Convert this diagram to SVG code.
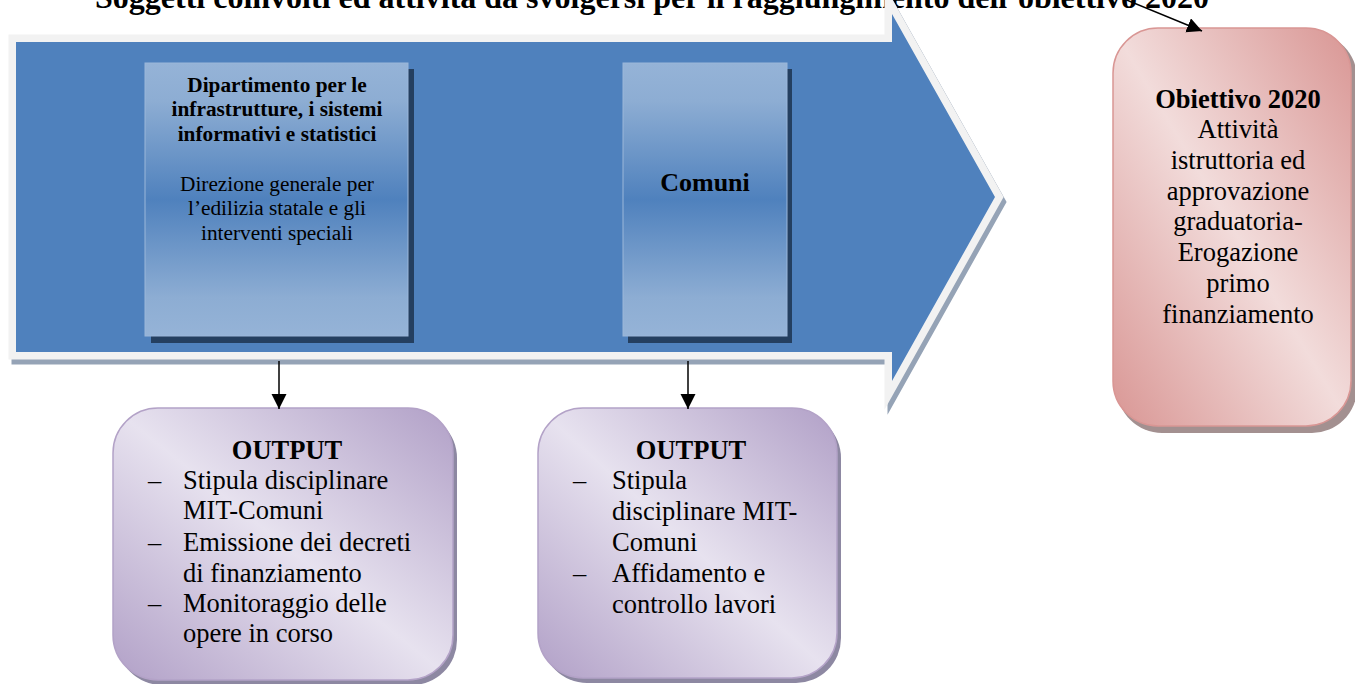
<svg xmlns="http://www.w3.org/2000/svg" width="1355" height="684" viewBox="0 0 1355 684">
  <style>
    .t { font-family: "Liberation Serif", "Times New Roman", serif; fill: #000; }
    .b { font-weight: bold; }
    .c { text-anchor: middle; }
    .s21 { font-size: 21.3px; }
    .s26 { font-size: 26.5px; }
    .conn { stroke: #000; stroke-width: 1.5; fill: none; marker-end: url(#arrow); }
    .panel { fill: url(#gBlue); stroke: #9bb7da; stroke-width: 1; }
    .panelShadow { fill: #243f60; }
    .outBox { fill: url(#gPurple); stroke: #b3a2c7; stroke-width: 1.5; }
    .outShadow { fill: #8d88a2; }
    .goalBox { fill: url(#gPink); stroke: #d99694; stroke-width: 1.5; }
    .goalShadow { fill: #a39090; }
  </style>
  <defs>
    <linearGradient id="gBlue" x1="0" y1="0" x2="0" y2="1">
      <stop offset="0" stop-color="#95b3d7"/>
      <stop offset="0.14" stop-color="#8dadd3"/>
      <stop offset="0.5" stop-color="#4f81bd"/>
      <stop offset="0.86" stop-color="#8dadd3"/>
      <stop offset="1" stop-color="#95b3d7"/>
    </linearGradient>
    <linearGradient id="gPurple" x1="1" y1="0" x2="0" y2="1">
      <stop offset="0" stop-color="#b1a0c7"/>
      <stop offset="0.5" stop-color="#e7e2ef"/>
      <stop offset="1" stop-color="#b1a0c7"/>
    </linearGradient>
    <linearGradient id="gPink" x1="1" y1="0" x2="0" y2="1">
      <stop offset="0" stop-color="#d99694"/>
      <stop offset="0.5" stop-color="#f2dcdb"/>
      <stop offset="1" stop-color="#d99694"/>
    </linearGradient>
    <marker id="arrow" markerWidth="16" markerHeight="16" refX="15" refY="7.5" orient="auto" markerUnits="userSpaceOnUse">
      <path d="M0,0 L15,7.5 L0,15 z" fill="#000"/>
    </marker>
  </defs>

  <!-- heading, partly above the page edge -->
  <text class="t b" x="95" y="8" font-size="32">Soggetti coinvolti ed attività da svolgersi per il raggiungimento dell’obiettivo 2020</text>

  <!-- large process arrow: shadow, light outline, blue body -->
  <g id="process-arrow">
    <polygon transform="translate(3,5)" points="16,42 892,42 892,14 995,197 892,381 892,352 16,352" fill="#95a3b6" stroke="#95a3b6" stroke-width="15" stroke-linejoin="miter" stroke-miterlimit="10"/>
    <polygon points="16,42 892,42 892,14 995,197 892,381 892,352 16,352" fill="#f2f2f2" stroke="#f2f2f2" stroke-width="15" stroke-linejoin="miter" stroke-miterlimit="10"/>
    <polygon points="16,42 892,42 892,14 995,197 892,381 892,352 16,352" fill="#4f81bd"/>
  </g>

  <g id="node-dipartimento">
    <rect class="panelShadow" x="151" y="69" width="263" height="274"/>
    <rect class="panel" x="145" y="63" width="263" height="273"/>
    <text class="t b c s21" x="277" y="92">Dipartimento per le</text>
    <text class="t b c s21" x="277" y="116">infrastrutture, i sistemi</text>
    <text class="t b c s21" x="277" y="141">informativi e statistici</text>
    <text class="t c s21" x="277" y="191">Direzione generale per</text>
    <text class="t c s21" x="277" y="215">l’edilizia statale e gli</text>
    <text class="t c s21" x="277" y="240">interventi speciali</text>
  </g>

  <g id="node-comuni">
    <rect class="panelShadow" x="628" y="69" width="164" height="274"/>
    <rect class="panel" x="623" y="63" width="164" height="273"/>
    <text class="t b c" x="705" y="191" font-size="26">Comuni</text>
  </g>

  <g id="node-output-1">
    <rect class="outShadow" x="117" y="413" width="340" height="272" rx="45" ry="45"/>
    <rect class="outBox" x="113" y="408" width="340" height="272" rx="45" ry="45"/>
    <text class="t b c s26" x="287" y="459">OUTPUT</text>
    <text class="t s26" x="148" y="489">–</text>
    <text class="t s26" x="183" y="489">Stipula disciplinare</text>
    <text class="t s26" x="183" y="519">MIT-Comuni</text>
    <text class="t s26" x="148" y="551">–</text>
    <text class="t s26" x="183" y="551">Emissione dei decreti</text>
    <text class="t s26" x="183" y="582">di finanziamento</text>
    <text class="t s26" x="148" y="612">–</text>
    <text class="t s26" x="183" y="612">Monitoraggio delle</text>
    <text class="t s26" x="183" y="642">opere in corso</text>
  </g>

  <g id="node-output-2">
    <rect class="outShadow" x="542" y="413" width="299" height="270" rx="45" ry="45"/>
    <rect class="outBox" x="538" y="408" width="299" height="270" rx="45" ry="45"/>
    <text class="t b c s26" x="691" y="459">OUTPUT</text>
    <text class="t s26" x="573" y="489">–</text>
    <text class="t s26" x="612" y="489">Stipula</text>
    <text class="t s26" x="612" y="520">disciplinare MIT-</text>
    <text class="t s26" x="612" y="551">Comuni</text>
    <text class="t s26" x="573" y="582">–</text>
    <text class="t s26" x="612" y="582">Affidamento e</text>
    <text class="t s26" x="612" y="613">controllo lavori</text>
  </g>

  <g id="node-obiettivo">
    <rect class="goalShadow" x="1117" y="33" width="240" height="400" rx="45" ry="45"/>
    <rect class="goalBox" x="1113" y="28" width="238" height="398" rx="45" ry="45"/>
    <text class="t b c s26" x="1238" y="108">Obiettivo 2020</text>
    <text class="t c s26" x="1238" y="138">Attività</text>
    <text class="t c s26" x="1238" y="169">istruttoria ed</text>
    <text class="t c s26" x="1238" y="200">approvazione</text>
    <text class="t c s26" x="1238" y="230">graduatoria-</text>
    <text class="t c s26" x="1238" y="261">Erogazione</text>
    <text class="t c s26" x="1238" y="292">primo</text>
    <text class="t c s26" x="1238" y="323">finanziamento</text>
  </g>

  <g id="connectors">
    <path class="conn" d="M279,361 L279,409"/>
    <path class="conn" d="M688,361 L688,409"/>
    <path class="conn" d="M1112,-6 L1202,31"/>
  </g>
</svg>
